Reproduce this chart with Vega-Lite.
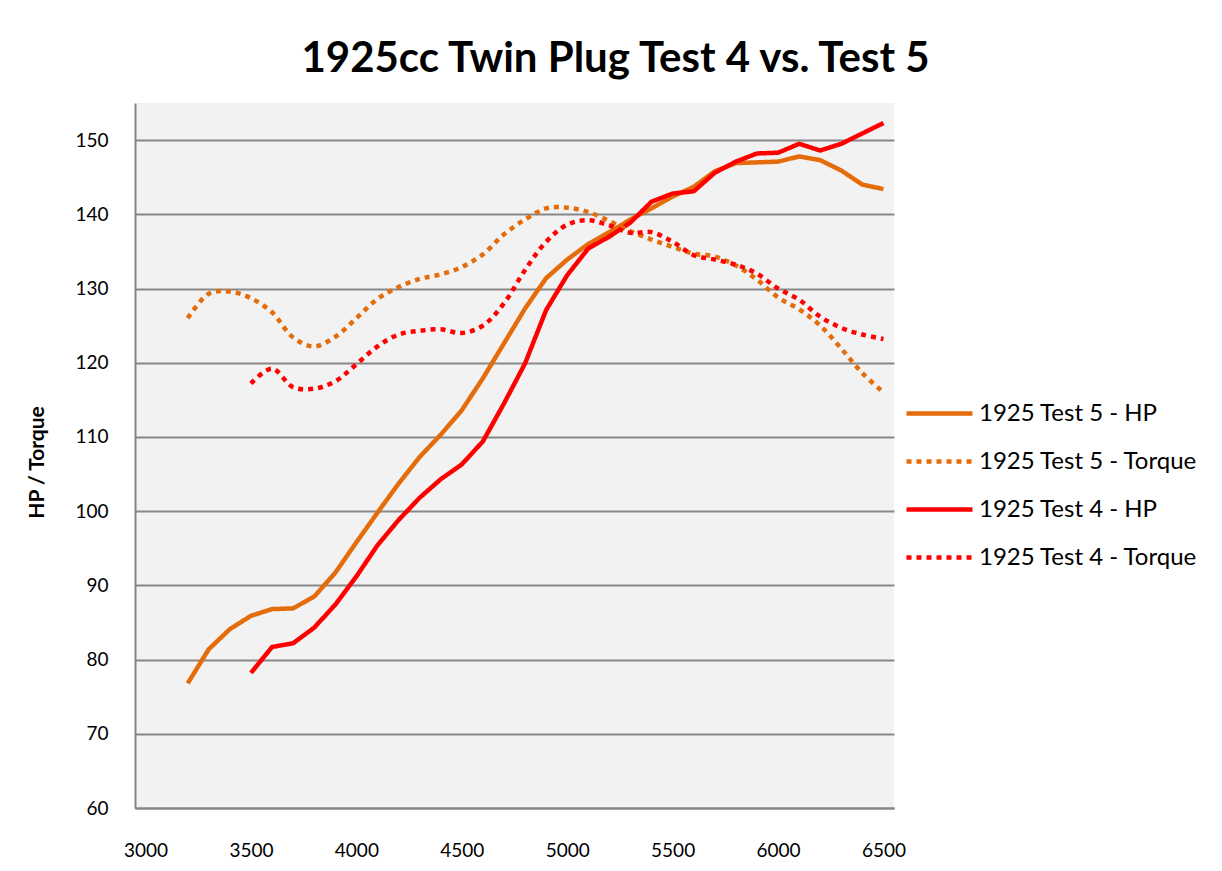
{
  "$schema": "https://vega.github.io/schema/vega-lite/v6.json",
  "width": 759,
  "height": 705,
  "autosize": {"type": "none"},
  "padding": {"left": 135, "top": 103, "right": 328, "bottom": 63},
  "background": "white",
  "config": {
    "font": "Lato",
    "view": {"fill": "#f2f2f2", "stroke": null},
    "axis": {"labelFont": "Lato", "titleFont": "Lato", "labelColor": "#000000", "titleColor": "#000000"}
  },
  "title": {
    "text": "1925cc Twin Plug Test 4 vs. Test 5",
    "font": "Lato",
    "fontSize": 42,
    "fontWeight": "bold",
    "color": "#000000",
    "anchor": "middle",
    "frame": "group",
    "dx": 101,
    "dy": 42,
    "baseline": "alphabetic",
    "offset": 31
  },
  "data": {
    "values": [
      {"rpm": 3200, "series": "1925 Test 5 - HP", "value": 76.8},
      {"rpm": 3300, "series": "1925 Test 5 - HP", "value": 81.4},
      {"rpm": 3400, "series": "1925 Test 5 - HP", "value": 84.1},
      {"rpm": 3500, "series": "1925 Test 5 - HP", "value": 85.9},
      {"rpm": 3600, "series": "1925 Test 5 - HP", "value": 86.8},
      {"rpm": 3700, "series": "1925 Test 5 - HP", "value": 86.9},
      {"rpm": 3800, "series": "1925 Test 5 - HP", "value": 88.5},
      {"rpm": 3900, "series": "1925 Test 5 - HP", "value": 91.7},
      {"rpm": 4000, "series": "1925 Test 5 - HP", "value": 95.8},
      {"rpm": 4100, "series": "1925 Test 5 - HP", "value": 99.8},
      {"rpm": 4200, "series": "1925 Test 5 - HP", "value": 103.7},
      {"rpm": 4300, "series": "1925 Test 5 - HP", "value": 107.3},
      {"rpm": 4400, "series": "1925 Test 5 - HP", "value": 110.3},
      {"rpm": 4500, "series": "1925 Test 5 - HP", "value": 113.6},
      {"rpm": 4600, "series": "1925 Test 5 - HP", "value": 117.9},
      {"rpm": 4700, "series": "1925 Test 5 - HP", "value": 122.6},
      {"rpm": 4800, "series": "1925 Test 5 - HP", "value": 127.3},
      {"rpm": 4900, "series": "1925 Test 5 - HP", "value": 131.4},
      {"rpm": 5000, "series": "1925 Test 5 - HP", "value": 133.9},
      {"rpm": 5100, "series": "1925 Test 5 - HP", "value": 136.0},
      {"rpm": 5200, "series": "1925 Test 5 - HP", "value": 137.6},
      {"rpm": 5300, "series": "1925 Test 5 - HP", "value": 139.3},
      {"rpm": 5400, "series": "1925 Test 5 - HP", "value": 140.8},
      {"rpm": 5500, "series": "1925 Test 5 - HP", "value": 142.4},
      {"rpm": 5600, "series": "1925 Test 5 - HP", "value": 143.7},
      {"rpm": 5700, "series": "1925 Test 5 - HP", "value": 145.8},
      {"rpm": 5800, "series": "1925 Test 5 - HP", "value": 146.9},
      {"rpm": 5900, "series": "1925 Test 5 - HP", "value": 147.0},
      {"rpm": 6000, "series": "1925 Test 5 - HP", "value": 147.1},
      {"rpm": 6100, "series": "1925 Test 5 - HP", "value": 147.8},
      {"rpm": 6200, "series": "1925 Test 5 - HP", "value": 147.3},
      {"rpm": 6300, "series": "1925 Test 5 - HP", "value": 145.9},
      {"rpm": 6400, "series": "1925 Test 5 - HP", "value": 144.0},
      {"rpm": 6500, "series": "1925 Test 5 - HP", "value": 143.4},

      {"rpm": 3200, "series": "1925 Test 5 - Torque", "value": 126.0},
      {"rpm": 3300, "series": "1925 Test 5 - Torque", "value": 129.3},
      {"rpm": 3400, "series": "1925 Test 5 - Torque", "value": 129.6},
      {"rpm": 3500, "series": "1925 Test 5 - Torque", "value": 128.7},
      {"rpm": 3600, "series": "1925 Test 5 - Torque", "value": 126.8},
      {"rpm": 3700, "series": "1925 Test 5 - Torque", "value": 123.4},
      {"rpm": 3800, "series": "1925 Test 5 - Torque", "value": 122.2},
      {"rpm": 3900, "series": "1925 Test 5 - Torque", "value": 123.5},
      {"rpm": 4000, "series": "1925 Test 5 - Torque", "value": 126.0},
      {"rpm": 4100, "series": "1925 Test 5 - Torque", "value": 128.6},
      {"rpm": 4200, "series": "1925 Test 5 - Torque", "value": 130.2},
      {"rpm": 4300, "series": "1925 Test 5 - Torque", "value": 131.3},
      {"rpm": 4400, "series": "1925 Test 5 - Torque", "value": 131.9},
      {"rpm": 4500, "series": "1925 Test 5 - Torque", "value": 132.9},
      {"rpm": 4600, "series": "1925 Test 5 - Torque", "value": 134.6},
      {"rpm": 4700, "series": "1925 Test 5 - Torque", "value": 137.3},
      {"rpm": 4800, "series": "1925 Test 5 - Torque", "value": 139.3},
      {"rpm": 4900, "series": "1925 Test 5 - Torque", "value": 140.8},
      {"rpm": 5000, "series": "1925 Test 5 - Torque", "value": 140.9},
      {"rpm": 5100, "series": "1925 Test 5 - Torque", "value": 140.3},
      {"rpm": 5200, "series": "1925 Test 5 - Torque", "value": 139.1},
      {"rpm": 5300, "series": "1925 Test 5 - Torque", "value": 137.7},
      {"rpm": 5400, "series": "1925 Test 5 - Torque", "value": 136.6},
      {"rpm": 5500, "series": "1925 Test 5 - Torque", "value": 135.6},
      {"rpm": 5600, "series": "1925 Test 5 - Torque", "value": 134.7},
      {"rpm": 5700, "series": "1925 Test 5 - Torque", "value": 134.3},
      {"rpm": 5800, "series": "1925 Test 5 - Torque", "value": 133.1},
      {"rpm": 5900, "series": "1925 Test 5 - Torque", "value": 131.2},
      {"rpm": 6000, "series": "1925 Test 5 - Torque", "value": 128.8},
      {"rpm": 6100, "series": "1925 Test 5 - Torque", "value": 127.2},
      {"rpm": 6200, "series": "1925 Test 5 - Torque", "value": 125.0},
      {"rpm": 6300, "series": "1925 Test 5 - Torque", "value": 121.9},
      {"rpm": 6400, "series": "1925 Test 5 - Torque", "value": 118.6},
      {"rpm": 6500, "series": "1925 Test 5 - Torque", "value": 116.0},

      {"rpm": 3500, "series": "1925 Test 4 - HP", "value": 78.2},
      {"rpm": 3600, "series": "1925 Test 4 - HP", "value": 81.7},
      {"rpm": 3700, "series": "1925 Test 4 - HP", "value": 82.2},
      {"rpm": 3800, "series": "1925 Test 4 - HP", "value": 84.3},
      {"rpm": 3900, "series": "1925 Test 4 - HP", "value": 87.4},
      {"rpm": 4000, "series": "1925 Test 4 - HP", "value": 91.2},
      {"rpm": 4100, "series": "1925 Test 4 - HP", "value": 95.4},
      {"rpm": 4200, "series": "1925 Test 4 - HP", "value": 98.8},
      {"rpm": 4300, "series": "1925 Test 4 - HP", "value": 101.8},
      {"rpm": 4400, "series": "1925 Test 4 - HP", "value": 104.3},
      {"rpm": 4500, "series": "1925 Test 4 - HP", "value": 106.3},
      {"rpm": 4600, "series": "1925 Test 4 - HP", "value": 109.4},
      {"rpm": 4700, "series": "1925 Test 4 - HP", "value": 114.5},
      {"rpm": 4800, "series": "1925 Test 4 - HP", "value": 119.9},
      {"rpm": 4900, "series": "1925 Test 4 - HP", "value": 127.1},
      {"rpm": 5000, "series": "1925 Test 4 - HP", "value": 131.8},
      {"rpm": 5100, "series": "1925 Test 4 - HP", "value": 135.4},
      {"rpm": 5200, "series": "1925 Test 4 - HP", "value": 137.0},
      {"rpm": 5300, "series": "1925 Test 4 - HP", "value": 138.9},
      {"rpm": 5400, "series": "1925 Test 4 - HP", "value": 141.7},
      {"rpm": 5500, "series": "1925 Test 4 - HP", "value": 142.8},
      {"rpm": 5600, "series": "1925 Test 4 - HP", "value": 143.1},
      {"rpm": 5700, "series": "1925 Test 4 - HP", "value": 145.6},
      {"rpm": 5800, "series": "1925 Test 4 - HP", "value": 147.1},
      {"rpm": 5900, "series": "1925 Test 4 - HP", "value": 148.2},
      {"rpm": 6000, "series": "1925 Test 4 - HP", "value": 148.3},
      {"rpm": 6100, "series": "1925 Test 4 - HP", "value": 149.5},
      {"rpm": 6200, "series": "1925 Test 4 - HP", "value": 148.6},
      {"rpm": 6300, "series": "1925 Test 4 - HP", "value": 149.5},
      {"rpm": 6400, "series": "1925 Test 4 - HP", "value": 150.9},
      {"rpm": 6500, "series": "1925 Test 4 - HP", "value": 152.3},

      {"rpm": 3500, "series": "1925 Test 4 - Torque", "value": 117.2},
      {"rpm": 3600, "series": "1925 Test 4 - Torque", "value": 119.2},
      {"rpm": 3700, "series": "1925 Test 4 - Torque", "value": 116.7},
      {"rpm": 3800, "series": "1925 Test 4 - Torque", "value": 116.5},
      {"rpm": 3900, "series": "1925 Test 4 - Torque", "value": 117.5},
      {"rpm": 4000, "series": "1925 Test 4 - Torque", "value": 119.8},
      {"rpm": 4100, "series": "1925 Test 4 - Torque", "value": 122.2},
      {"rpm": 4200, "series": "1925 Test 4 - Torque", "value": 123.8},
      {"rpm": 4300, "series": "1925 Test 4 - Torque", "value": 124.3},
      {"rpm": 4400, "series": "1925 Test 4 - Torque", "value": 124.5},
      {"rpm": 4500, "series": "1925 Test 4 - Torque", "value": 124.0},
      {"rpm": 4600, "series": "1925 Test 4 - Torque", "value": 125.0},
      {"rpm": 4700, "series": "1925 Test 4 - Torque", "value": 128.0},
      {"rpm": 4800, "series": "1925 Test 4 - Torque", "value": 132.5},
      {"rpm": 4900, "series": "1925 Test 4 - Torque", "value": 136.3},
      {"rpm": 5000, "series": "1925 Test 4 - Torque", "value": 138.6},
      {"rpm": 5100, "series": "1925 Test 4 - Torque", "value": 139.2},
      {"rpm": 5200, "series": "1925 Test 4 - Torque", "value": 138.5},
      {"rpm": 5300, "series": "1925 Test 4 - Torque", "value": 137.5},
      {"rpm": 5400, "series": "1925 Test 4 - Torque", "value": 137.6},
      {"rpm": 5500, "series": "1925 Test 4 - Torque", "value": 136.3},
      {"rpm": 5600, "series": "1925 Test 4 - Torque", "value": 134.5},
      {"rpm": 5700, "series": "1925 Test 4 - Torque", "value": 133.9},
      {"rpm": 5800, "series": "1925 Test 4 - Torque", "value": 133.2},
      {"rpm": 5900, "series": "1925 Test 4 - Torque", "value": 132.0},
      {"rpm": 6000, "series": "1925 Test 4 - Torque", "value": 130.0},
      {"rpm": 6100, "series": "1925 Test 4 - Torque", "value": 128.5},
      {"rpm": 6200, "series": "1925 Test 4 - Torque", "value": 126.2},
      {"rpm": 6300, "series": "1925 Test 4 - Torque", "value": 124.7},
      {"rpm": 6400, "series": "1925 Test 4 - Torque", "value": 123.8},
      {"rpm": 6500, "series": "1925 Test 4 - Torque", "value": 123.2}
    ]
  },
  "encoding": {
    "x": {
      "field": "rpm",
      "type": "quantitative",
      "scale": {"domain": [2950, 6550], "nice": false, "zero": false},
      "axis": {
        "title": null,
        "values": [3000, 3500, 4000, 4500, 5000, 5500, 6000, 6500],
        "format": "d",
        "grid": false,
        "ticks": false,
        "domainColor": "#868686",
        "domainWidth": 2,
        "labelFontSize": 19,
        "labelPadding": 33,
        "labelFlush": false
      }
    },
    "y": {
      "field": "value",
      "type": "quantitative",
      "scale": {"domain": [60, 155], "nice": false, "zero": false},
      "axis": {
        "title": "HP / Torque",
        "titleFontSize": 21,
        "titleFontWeight": "bold",
        "titleX": -98,
        "titleY": 359,
        "titleAngle": 270,
        "titleAlign": "center",
        "titleBaseline": "middle",
        "values": [60, 70, 80, 90, 100, 110, 120, 130, 140, 150],
        "grid": true,
        "gridColor": "#888888",
        "gridWidth": 2,
        "ticks": false,
        "domainColor": "#868686",
        "domainWidth": 2,
        "labelFontSize": 19,
        "labelPadding": 27
      }
    },
    "color": {
      "field": "series",
      "type": "nominal",
      "scale": {
        "domain": ["1925 Test 5 - HP", "1925 Test 5 - Torque", "1925 Test 4 - HP", "1925 Test 4 - Torque"],
        "range": ["#E46C0A", "#E46C0A", "#FF0000", "#FF0000"]
      },
      "legend": {
        "title": null,
        "orient": "none",
        "legendX": 769,
        "legendY": 275,
        "padding": 0,
        "symbolType": "stroke",
        "symbolSize": 4356,
        "symbolStrokeWidth": 4.5,
        "labelFontSize": 24,
        "labelFont": "Lato",
        "labelColor": "#000000",
        "labelOffset": 4,
        "rowPadding": -19,
        "labelLimit": 300
      }
    },
    "strokeDash": {
      "field": "series",
      "type": "nominal",
      "scale": {
        "domain": ["1925 Test 5 - HP", "1925 Test 5 - Torque", "1925 Test 4 - HP", "1925 Test 4 - Torque"],
        "range": [[1, 0], [5, 5], [1, 0], [5, 5]]
      },
      "legend": null
    }
  },
  "layer": [
    {
      "transform": [{"filter": "indexof(datum.series, 'HP') >= 0"}],
      "mark": {"type": "line", "strokeWidth": 4.5, "interpolate": "linear", "strokeJoin": "round"}
    },
    {
      "transform": [{"filter": "indexof(datum.series, 'Torque') >= 0"}],
      "mark": {"type": "line", "strokeWidth": 4.5, "interpolate": "catmull-rom", "strokeCap": "butt"}
    }
  ]
}
